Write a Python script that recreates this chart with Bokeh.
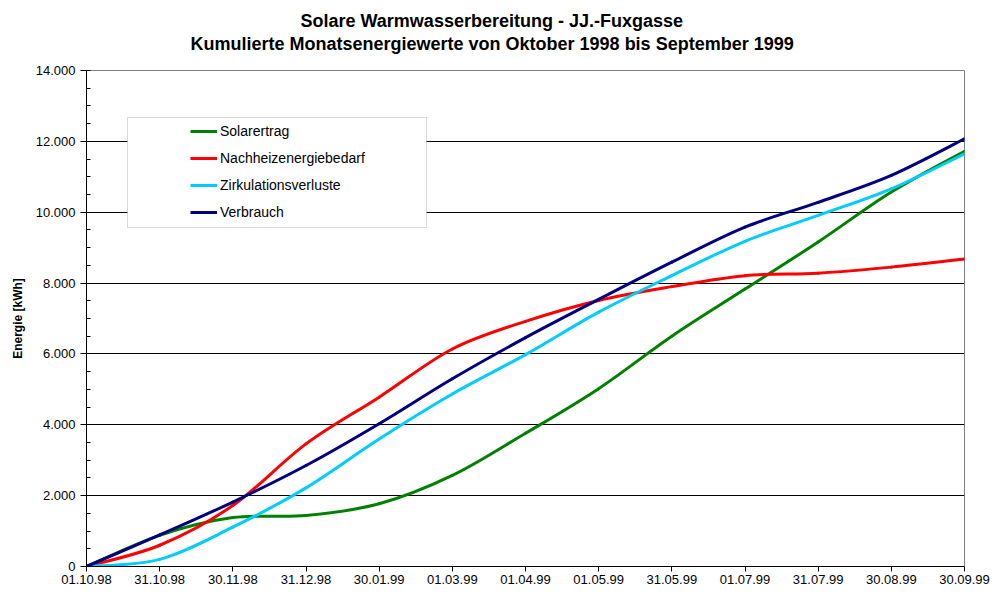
import numpy as np
from bokeh.plotting import figure
from bokeh.models import (Range1d, FixedTicker, SingleIntervalTicker, Legend, LegendItem,
                          BoxAnnotation, Title, ColumnDataSource)
from bokeh.embed import file_html
from bokeh.resources import INLINE

# ---------------- data ----------------
dates = ["01.10.98", "31.10.98", "30.11.98", "31.12.98", "30.01.99", "01.03.99", "01.04.99",
         "01.05.99", "31.05.99", "01.07.99", "31.07.99", "30.08.99", "30.09.99"]
solarertrag = [0, 880, 1380, 1440, 1770, 2570, 3760, 5020, 6500, 7830, 9160, 10570, 11720]
nachheizenergiebedarf = [0, 600, 1720, 3460, 4780, 6140, 6920, 7510, 7900, 8210, 8280, 8450, 8680]
zirkulationsverluste = [0, 200, 1110, 2220, 3600, 4870, 5980, 7180, 8210, 9180, 9910, 10660, 11650]
verbrauch = [0, 890, 1820, 2850, 4030, 5300, 6460, 7540, 8590, 9580, 10280, 11040, 12070]
y_ticks = [0, 2000, 4000, 6000, 8000, 10000, 12000, 14000]
y_tick_labels = ["0", "2.000", "4.000", "6.000", "8.000", "10.000", "12.000", "14.000"]

series = [
    ("Solarertrag", solarertrag, "#008000"),
    ("Nachheizenergiebedarf", nachheizenergiebedarf, "#FF0000"),
    ("Zirkulationsverluste", zirkulationsverluste, "#00CCFF"),
    ("Verbrauch", verbrauch, "#000080"),
]

FONT = "Liberation Sans"

p = figure(width=990, height=592, output_backend="svg", toolbar_location=None,
           x_range=Range1d(0, len(dates) - 1), y_range=Range1d(0, 14000),
           min_border_left=86, min_border_right=26, min_border_top=70, min_border_bottom=26)
p.title = None
p.background_fill_color = "white"
p.border_fill_color = "white"
p.outline_line_color = "#808080"

# titles (second line added first: later titles stack further from the plot)
t2 = Title(text="Kumulierte Monatsenergiewerte von Oktober 1998 bis September 1999",
           align="left", offset=104, text_font=FONT, text_font_size="18px",
           text_font_style="bold", text_color="black", standoff=34)
t1 = Title(text="Solare Warmwasserbereitung - JJ.-Fuxgasse",
           align="left", offset=214, text_font=FONT, text_font_size="18px",
           text_font_style="bold", text_color="black", standoff=-32)
p.add_layout(t2, "above")
p.add_layout(t1, "above")

# axes
xa = p.xaxis[0]
xa.ticker = FixedTicker(ticks=list(range(len(dates))))
xa.major_label_overrides = {i: d for i, d in enumerate(dates)}
xa.major_tick_out = 5
xa.major_tick_in = 0
xa.minor_tick_out = 0
xa.minor_tick_in = 0
xa.major_label_standoff = 3
xa.major_label_text_font = FONT
xa.major_label_text_font_size = "13px"
xa.major_label_text_color = "black"
xa.axis_line_color = "black"
xa.major_tick_line_color = "black"

ya = p.yaxis[0]
ya.ticker = SingleIntervalTicker(interval=2000, num_minor_ticks=4)
ya.major_label_overrides = {t: l for t, l in zip(y_ticks, y_tick_labels)}
ya.major_tick_out = 6
ya.major_tick_in = 0
ya.minor_tick_out = 0
ya.minor_tick_in = 4
ya.major_label_standoff = 5
ya.major_label_text_font = FONT
ya.major_label_text_font_size = "13px"
ya.major_label_text_color = "black"
ya.axis_line_color = "black"
ya.major_tick_line_color = "black"
ya.minor_tick_line_color = "black"
ya.axis_label = "Energie [kWh]"
ya.axis_label_text_font = FONT
ya.axis_label_text_font_size = "12px"
ya.axis_label_text_font_style = "bold"
ya.axis_label_text_color = "black"
ya.axis_label_standoff = 8

p.xgrid.visible = False
p.ygrid.grid_line_color = "black"
p.ygrid.grid_line_width = 1
p.ygrid.ticker = ya.ticker

# smoothed curves (Excel-style cubic Bezier through the monthly values)
def bezier_source(vals):
    y = np.asarray(vals, dtype=float)
    x = np.arange(len(y), dtype=float)
    n = len(y)
    d = dict(x0=[], y0=[], x1=[], y1=[], cx0=[], cy0=[], cx1=[], cy1=[])
    for i in range(n - 1):
        ip = max(i - 1, 0)
        inx = min(i + 2, n - 1)
        d["x0"].append(x[i]); d["y0"].append(y[i])
        d["x1"].append(x[i + 1]); d["y1"].append(y[i + 1])
        d["cx0"].append(x[i] + (x[i + 1] - x[ip]) / 6.0)
        d["cy0"].append(y[i] + (y[i + 1] - y[ip]) / 6.0)
        d["cx1"].append(x[i + 1] - (x[inx] - x[i]) / 6.0)
        d["cy1"].append(y[i + 1] - (y[inx] - y[i]) / 6.0)
    return ColumnDataSource(d)

items = []
for name, vals, col in series:
    p.bezier(x0="x0", y0="y0", x1="x1", y1="y1", cx0="cx0", cy0="cy0", cx1="cx1", cy1="cy1",
             source=bezier_source(vals), line_color=col, line_width=3, line_cap="round")
    # first data point only: draws nothing on the plot, provides the legend swatch
    swatch = p.line(x=[0], y=[vals[0]], line_color=col, line_width=3)
    items.append(LegendItem(label=name, renderers=[swatch]))

# legend box (white, gray border) positioned from pixel layout of the frame
FR_L, FR_R, FR_T, FR_B = 86.0, 964.0, 70.0, 566.0
def px_x(px):
    return (px - FR_L) / (FR_R - FR_L) * (len(dates) - 1)
def px_y(py):
    return (FR_B - py) / (FR_B - FR_T) * 14000

box = BoxAnnotation(left=px_x(127), right=px_x(426), top=px_y(117), bottom=px_y(227),
                    fill_color="white", fill_alpha=1.0, line_color="#808080", line_width=1)
p.add_layout(box)

legend = Legend(items=items, location=(104, 344), padding=0, margin=0,
                border_line_alpha=0, background_fill_alpha=0,
                glyph_width=27, glyph_height=20, label_height=20, spacing=7,
                label_standoff=3, label_text_font=FONT, label_text_font_size="14px",
                label_text_color="black")
p.add_layout(legend)

open("out.html", "w").write(file_html(p, INLINE))
